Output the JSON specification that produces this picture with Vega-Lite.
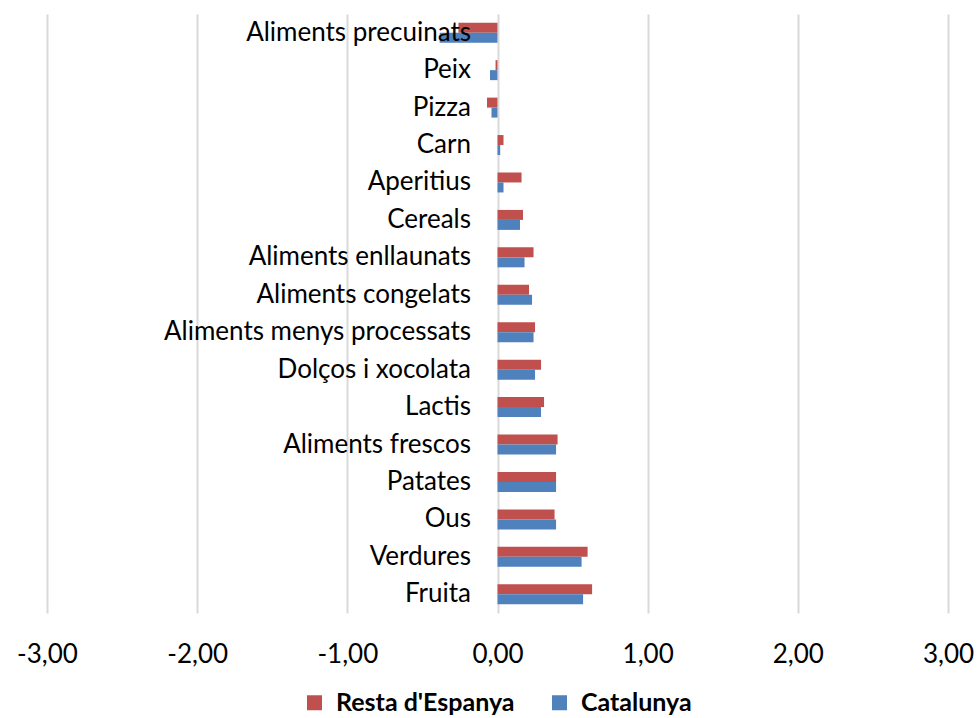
{
  "$schema": "https://vega.github.io/schema/vega-lite/v6.json",
  "width": 901,
  "height": 599,
  "autosize": "none",
  "padding": {"left": 47, "top": 14, "right": 30, "bottom": 105},
  "background": "white",
  "config": {"view": {"stroke": null}, "font": "Lato"},
  "data": {
    "values": [
      {"cat": "Aliments precuinats", "serie": "Resta d'Espanya", "v": -0.26},
      {"cat": "Aliments precuinats", "serie": "Catalunya", "v": -0.385},
      {"cat": "Peix", "serie": "Resta d'Espanya", "v": -0.013},
      {"cat": "Peix", "serie": "Catalunya", "v": -0.05},
      {"cat": "Pizza", "serie": "Resta d'Espanya", "v": -0.07},
      {"cat": "Pizza", "serie": "Catalunya", "v": -0.04},
      {"cat": "Carn", "serie": "Resta d'Espanya", "v": 0.04},
      {"cat": "Carn", "serie": "Catalunya", "v": 0.018},
      {"cat": "Aperitius", "serie": "Resta d'Espanya", "v": 0.16},
      {"cat": "Aperitius", "serie": "Catalunya", "v": 0.04},
      {"cat": "Cereals", "serie": "Resta d'Espanya", "v": 0.17},
      {"cat": "Cereals", "serie": "Catalunya", "v": 0.15},
      {"cat": "Aliments enllaunats", "serie": "Resta d'Espanya", "v": 0.24},
      {"cat": "Aliments enllaunats", "serie": "Catalunya", "v": 0.18},
      {"cat": "Aliments congelats", "serie": "Resta d'Espanya", "v": 0.21},
      {"cat": "Aliments congelats", "serie": "Catalunya", "v": 0.23},
      {"cat": "Aliments menys processats", "serie": "Resta d'Espanya", "v": 0.25},
      {"cat": "Aliments menys processats", "serie": "Catalunya", "v": 0.24},
      {"cat": "Dolços i xocolata", "serie": "Resta d'Espanya", "v": 0.29},
      {"cat": "Dolços i xocolata", "serie": "Catalunya", "v": 0.25},
      {"cat": "Lactis", "serie": "Resta d'Espanya", "v": 0.31},
      {"cat": "Lactis", "serie": "Catalunya", "v": 0.29},
      {"cat": "Aliments frescos", "serie": "Resta d'Espanya", "v": 0.40},
      {"cat": "Aliments frescos", "serie": "Catalunya", "v": 0.39},
      {"cat": "Patates", "serie": "Resta d'Espanya", "v": 0.39},
      {"cat": "Patates", "serie": "Catalunya", "v": 0.39},
      {"cat": "Ous", "serie": "Resta d'Espanya", "v": 0.38},
      {"cat": "Ous", "serie": "Catalunya", "v": 0.39},
      {"cat": "Verdures", "serie": "Resta d'Espanya", "v": 0.60},
      {"cat": "Verdures", "serie": "Catalunya", "v": 0.56},
      {"cat": "Fruita", "serie": "Resta d'Espanya", "v": 0.63},
      {"cat": "Fruita", "serie": "Catalunya", "v": 0.57}
    ]
  },
  "mark": {"type": "bar"},
  "encoding": {
    "y": {
      "field": "cat",
      "type": "nominal",
      "sort": null,
      "scale": {"paddingInner": 0.467, "paddingOuter": 0.2335},
      "axis": {
        "title": null,
        "orient": "left",
        "offset": -450.5,
        "domain": false,
        "ticks": false,
        "grid": false,
        "labelPadding": 27,
        "labelFontSize": 26,
        "labelLimit": 500,
        "labelColor": "#000000",
        "labelFont": "Lato",
        "zindex": 2
      }
    },
    "yOffset": {
      "field": "serie",
      "type": "nominal",
      "sort": ["Resta d'Espanya", "Catalunya"],
      "scale": {"paddingInner": 0, "paddingOuter": 0}
    },
    "x": {
      "field": "v",
      "type": "quantitative",
      "scale": {"domain": [-3, 3], "nice": false},
      "axis": {
        "title": null,
        "values": [-3, -2, -1, 0, 1, 2, 3],
        "labelExpr": "(datum.value < 0 ? '-' : '') + replace(format(abs(datum.value), '.2f'), '.', ',')",
        "domain": false,
        "ticks": false,
        "grid": true,
        "gridColor": "#D9D9D9",
        "gridWidth": 2,
        "labelPadding": 28,
        "labelFontSize": 26,
        "labelColor": "#000000",
        "labelFont": "Lato",
        "labelFlush": false
      }
    },
    "color": {
      "field": "serie",
      "type": "nominal",
      "scale": {"domain": ["Resta d'Espanya", "Catalunya"], "range": ["#C0504D", "#4F81BD"]},
      "legend": {
        "title": null,
        "orient": "none",
        "direction": "horizontal",
        "legendX": 255,
        "legendY": 676,
        "symbolType": "square",
        "symbolSize": 225,
        "symbolStrokeWidth": 0,
        "labelFontSize": 25,
        "labelFontWeight": "bold",
        "labelFont": "Lato",
        "labelColor": "#000000",
        "labelLimit": 400,
        "columnPadding": 32,
        "labelOffset": 9
      }
    }
  }
}
